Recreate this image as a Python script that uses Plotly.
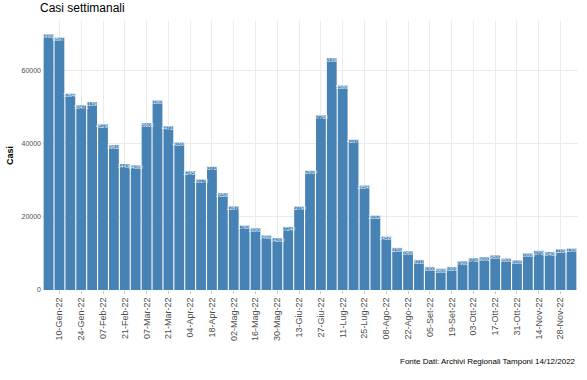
import plotly.graph_objects as go

weeks = ["03-Gen-22","10-Gen-22","17-Gen-22","24-Gen-22","31-Gen-22","07-Feb-22","14-Feb-22","21-Feb-22",
         "28-Feb-22","07-Mar-22","14-Mar-22","21-Mar-22","28-Mar-22","04-Apr-22","11-Apr-22","18-Apr-22",
         "25-Apr-22","02-Mag-22","09-Mag-22","16-Mag-22","23-Mag-22","30-Mag-22","06-Giu-22","13-Giu-22",
         "20-Giu-22","27-Giu-22","04-Lug-22","11-Lug-22","18-Lug-22","25-Lug-22","01-Ago-22","08-Ago-22",
         "15-Ago-22","22-Ago-22","29-Ago-22","05-Set-22","12-Set-22","19-Set-22","26-Set-22","03-Ott-22",
         "10-Ott-22","17-Ott-22","24-Ott-22","31-Ott-22","07-Nov-22","14-Nov-22","21-Nov-22","28-Nov-22",
         "05-Dic-22"]

cases = [69906, 68971, 53640, 50471, 51390, 45290, 39610, 34430, 34080, 45600,
         51800, 44710, 40300, 32450, 30170, 33710, 26500, 22870, 17600, 16900,
         14900, 14200, 17240, 22790, 32600, 47760, 63390, 55860, 41070, 28540,
         20320, 14580, 11500, 10600, 8210, 6300, 5800, 6300, 7900, 8700,
         9000, 9500, 8600, 8100, 10000, 10700, 10400, 11100, 11300]

tick_labels = weeks[1::2]
y_ticks = [0, 20000, 40000, 60000]

fig = go.Figure()
fig.add_trace(go.Bar(x=weeks, y=cases, marker_color="#4682B4", marker_line_width=0,
                     hoverinfo="x+y"))
fig.add_trace(go.Scatter(x=weeks, y=cases, mode="text", text=[str(v) for v in cases],
                         textposition="bottom center",
                         textfont=dict(size=5, color="#F0F5FA", family="Liberation Sans"),
                         hoverinfo="skip"))

fig.update_layout(
    width=587, height=380,
    margin=dict(l=40, r=9, t=21, b=90),
    paper_bgcolor="white", plot_bgcolor="white",
    showlegend=False, bargap=0.1,
    font=dict(family="Liberation Sans", color="#4D4D4D"),
    title=dict(text="Casi settimanali", x=40/587, xanchor="left", y=0.99, yanchor="top",
               font=dict(size=12, color="black", family="Liberation Sans")),
    xaxis=dict(type="category", categoryorder="array", categoryarray=weeks,
               range=[-0.6, len(weeks) - 0.4],
               tickmode="array", tickvals=tick_labels, ticktext=tick_labels,
               tickangle=-90, tickfont=dict(size=9, color="#4D4D4D"),
               showgrid=True, gridcolor="#EBEBEB", gridwidth=1,
               ticks="outside", ticklen=3, tickcolor="#CCCCCC", showline=False, zeroline=False),
    yaxis=dict(range=[0, 73500], tickvals=y_ticks, ticktext=[str(v) for v in y_ticks],
               tickfont=dict(size=7, color="#4D4D4D"),
               showgrid=True, gridcolor="#EBEBEB", gridwidth=1, zeroline=False,
               title=dict(text="<b>Casi</b>", font=dict(size=9, color="black"), standoff=6)),
    annotations=[dict(text="Fonte Dati: Archivi Regionali Tamponi 14/12/2022", xref="paper", yref="paper",
                      x=1, y=-0.24, xanchor="right", yanchor="top", showarrow=False,
                      font=dict(size=8, color="black"))],
)

fig.write_html("out.html", config={"displayModeBar": False},
               post_script="document.body.style.margin='0';")
